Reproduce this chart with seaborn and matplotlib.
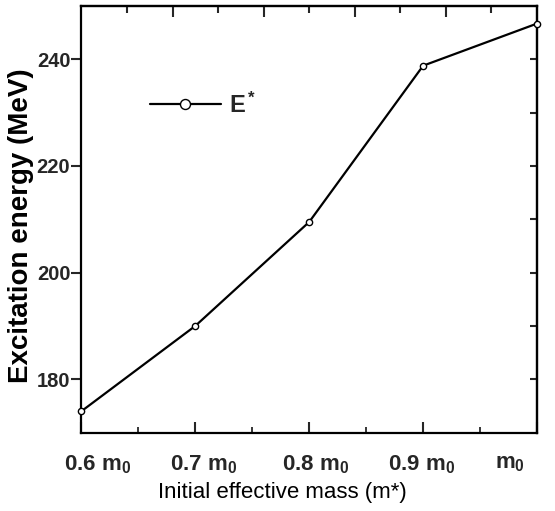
import matplotlib
matplotlib.use("Agg")
import matplotlib.pyplot as plt
import matplotlib.transforms as mtransforms
from matplotlib import font_manager
from matplotlib.ticker import MultipleLocator, FixedLocator, NullFormatter
import seaborn as sns
import pandas as pd

# ---- data ----
mass_ratio = [0.6, 0.7, 0.8, 0.9, 1.0]
tick_labels = ["0.6 m$_0$", "0.7 m$_0$", "0.8 m$_0$", "0.9 m$_0$", "m$_0$"]
excitation_energy = [174.0, 190.0, 209.5, 238.8, 246.7]
series_name = "E$^*$"

df = pd.DataFrame({"m": mass_ratio, "E": excitation_energy})

sns.set_theme(style="ticks")
names = {f.name for f in font_manager.fontManager.ttflist}
base = "Liberation Sans" if "Liberation Sans" in names else "DejaVu Sans"
narrow = "Liberation Sans Narrow" if "Liberation Sans Narrow" in names else None
plt.rcParams["font.family"] = [base, "DejaVu Sans"]
plt.rcParams["mathtext.fontset"] = "custom"
plt.rcParams["mathtext.rm"] = base
plt.rcParams["mathtext.bf"] = base + ":bold"
plt.rcParams["mathtext.it"] = base + ":italic"
plt.rcParams["mathtext.default"] = "bf"

fig = plt.figure(figsize=(5.55, 5.11), dpi=100)
ax = fig.add_axes([0.1468, 0.1536, 0.8208, 0.8347])

sns.lineplot(data=df, x="m", y="E", ax=ax, color="black", linewidth=1.6,
             marker="o", markersize=4.5, markerfacecolor="white",
             markeredgecolor="black", markeredgewidth=1.0, label=series_name,
             clip_on=False, zorder=5)

ax.set_xlim(0.6, 1.0)
ax.set_ylim(170, 250)

for s in ax.spines.values():
    s.set_linewidth(1.6)
    s.set_color("black")

# bottom ticks
ax.xaxis.set_major_locator(FixedLocator(mass_ratio))
ax.set_xticklabels(tick_labels)
ax.xaxis.set_minor_locator(MultipleLocator(0.05))
ax.tick_params(axis="x", which="major", direction="in", length=8, width=1.5,
               pad=15, labelsize=16, bottom=True, top=False)
ax.tick_params(axis="x", which="minor", direction="in", length=4, width=1.3,
               bottom=True, top=False)
for lab in ax.get_xticklabels():
    lab.set_fontweight("bold")
offsets = [16, 8, 6.5, -1.5, -27]
for lab, dx in zip(ax.get_xticklabels(), offsets):
    lab.set_transform(lab.get_transform() +
                      mtransforms.ScaledTranslation(dx / 100, 0, fig.dpi_scale_trans))

# left ticks
ax.yaxis.set_major_locator(FixedLocator([180, 200, 220, 240]))
ax.tick_params(axis="y", which="major", direction="out", length=7, width=1.5,
               pad=1, left=True, right=False)
ytick_family = [narrow, base] if narrow else [base]
ysize = 16 if narrow else 14.5
for lab in ax.get_yticklabels():
    lab.set_fontfamily(ytick_family)
    lab.set_fontsize(ysize)
    lab.set_fontweight("bold")

# top ticks (no labels)
top = ax.secondary_xaxis("top")
top.xaxis.set_major_locator(FixedLocator([0.68, 0.76, 0.84, 0.92]))
top.xaxis.set_minor_locator(FixedLocator([0.64, 0.72, 0.80, 0.88, 0.96]))
top.xaxis.set_major_formatter(NullFormatter())
top.tick_params(which="major", direction="in", length=8, width=1.5)
top.tick_params(which="minor", direction="in", length=5, width=1.5)
top.spines["top"].set_linewidth(1.6)

# right ticks (no labels)
right = ax.secondary_yaxis("right")
right.yaxis.set_major_locator(FixedLocator([180, 190, 200, 210, 220, 230, 240]))
right.yaxis.set_major_formatter(NullFormatter())
right.tick_params(which="major", direction="in", length=5, width=1.5)
right.spines["right"].set_linewidth(1.6)

# axis labels
xlab_family = [narrow, base] if narrow else [base]
ax.set_xlabel("Initial effective mass (m*)", fontsize=19 if narrow else 16,
              family=xlab_family, color="black")
ax.xaxis.set_label_coords(0.440, -0.117)
ax.set_ylabel("Excitation energy (MeV)", fontsize=20, fontweight="bold",
              color="black")
ax.yaxis.set_label_coords(-0.105, 0.484)

leg = ax.legend(loc="center left", bbox_to_anchor=(0.150, 0.768), frameon=False,
                handlelength=3.0, handletextpad=0.35, borderpad=0, borderaxespad=0,
                markerscale=1.6, prop={"weight": "bold", "size": 17})

fig.savefig("out.png", dpi=100)
